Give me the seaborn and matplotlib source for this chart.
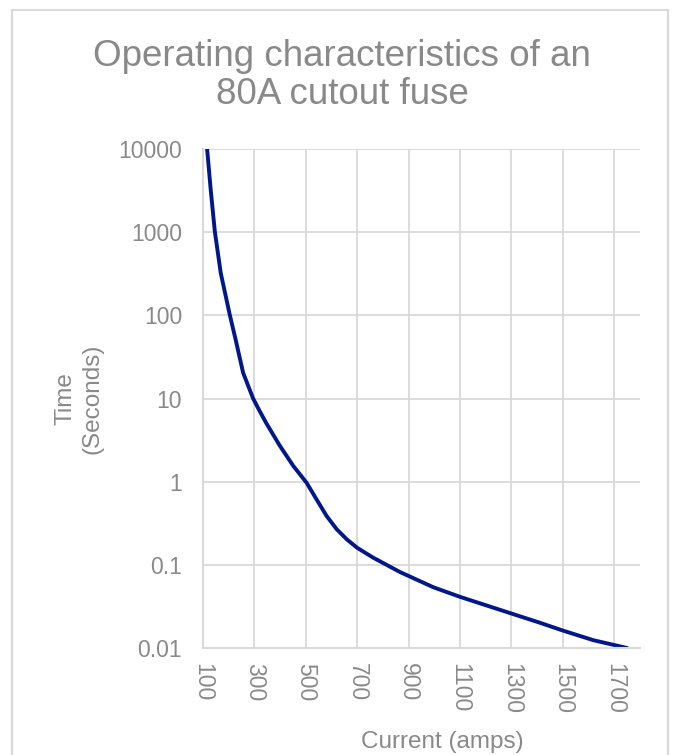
import numpy as np
import pandas as pd
import matplotlib
matplotlib.use('Agg')
import matplotlib.pyplot as plt
from matplotlib.patches import Rectangle
import seaborn as sns

sns.set_theme(style="white")
plt.rcParams['font.family'] = ['Liberation Sans', 'DejaVu Sans']

# valores (corriente en A, tiempo en s)
current = [116, 130, 146, 169, 204, 227, 256, 295, 320, 347, 399, 451, 503,
           542, 581, 620, 659, 700, 762, 866, 997, 1100, 1204, 1301,
           1411, 1500, 1619, 1750]
time_s = [10000, 3230, 1020, 323, 102, 51, 20.4, 10, 7.1, 5.0, 2.7, 1.55, 0.97,
          0.61, 0.386, 0.268, 0.203, 0.16, 0.122, 0.082, 0.0536, 0.0412,
          0.0324, 0.0259, 0.0201, 0.0162, 0.0124, 0.01]

x_ticks = [100, 300, 500, 700, 900, 1100, 1300, 1500, 1700]
y_ticks = [0.01, 0.1, 1, 10, 100, 1000, 10000]
y_labels = ['0.01', '0.1', '1', '10', '100', '1000', '10000']

df = pd.DataFrame({'current': current, 'time': time_s})

gray = '#898989'
grid = '#d9d9d9'

fig = plt.figure(figsize=(6.73, 7.55), dpi=100)
ax = fig.add_axes([203 / 673, 107 / 755, 437 / 673, 499 / 755])

sns.lineplot(data=df, x='current', y='time', ax=ax, color='#00178c',
             linewidth=2.8, estimator=None, solid_joinstyle='round')

ax.set_yscale('log')
ax.set_ylim(0.01, 10000)
ax.set_xlim(100, 1800)
ax.set_yticks(y_ticks)
ax.set_yticklabels(y_labels)
ax.minorticks_off()
ax.set_xticks(x_ticks)
ax.set_xticklabels([str(v) for v in x_ticks], rotation=-90)

ax.grid(True, color=grid, linewidth=1.3)
ax.set_axisbelow(True)
for side in ['top', 'right']:
    ax.spines[side].set_visible(False)
for side in ['left', 'bottom']:
    ax.spines[side].set_color(grid)
    ax.spines[side].set_linewidth(1.5)

ax.tick_params(axis='both', length=0, labelsize=16.5, labelcolor=gray)
ax.tick_params(axis='y', pad=15)
ax.tick_params(axis='x', pad=11)

ax.set_xlabel('')
ax.set_ylabel('')
fig.text(442 / 673, 1 - 742 / 755, 'Current (amps)', ha='center', va='center',
         fontsize=17.5, color=gray)
fig.text(79 / 673, 1 - 399 / 755, 'Time\n(Seconds)', ha='center', va='center',
         rotation=90, fontsize=17.5, color=gray, linespacing=1.3)

fig.text(342 / 673, 1 - 39 / 755, 'Operating characteristics of an\n80A cutout fuse',
         ha='center', va='top', fontsize=26.5, color=gray, linespacing=1.1)

# marco del grafico
fig.patches.append(Rectangle((12 / 673, -0.1), 656 / 673, 0.1 + 1 - 10 / 755,
                             transform=fig.transFigure, fill=False,
                             edgecolor=grid, linewidth=1.5))

fig.savefig('out.png', dpi=100)
